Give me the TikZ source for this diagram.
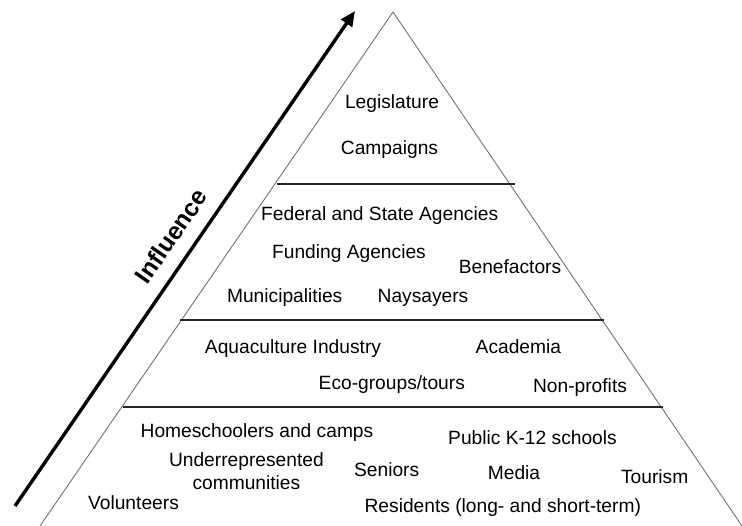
\documentclass[tikz,border=0pt]{standalone}
\usepackage{fontspec}
\setmainfont{Liberation Sans}
\usetikzlibrary{arrows.meta}
\begin{document}
\begin{tikzpicture}[x=1pt,y=-1pt,
  lbl/.style={inner sep=0pt,anchor=base,font=\fontsize{19.2}{22.3}\selectfont},
  side/.style={draw=black!55,line width=0.9pt},
  tier/.style={draw=black!85,line width=1.4pt},
  infl/.style={draw=black,line width=3.4pt,-{Triangle[length=15pt,width=13pt]}}]
\useasboundingbox (0,0) rectangle (742,526);
\fill[white] (0,0) rectangle (742,526);
% pyramid
\coordinate (apex) at (393,12);
\coordinate (bl) at (40,526);
\coordinate (br) at (742,526);
\draw[side] (bl) -- (apex) -- (br);
\coordinate (t1l) at (277,184);
\coordinate (t1r) at (515,184);
\coordinate (t2l) at (180,320);
\coordinate (t2r) at (604,320);
\coordinate (t3l) at (123,407);
\coordinate (t3r) at (663,407);
\draw[tier] (t1l) -- (t1r);
\draw[tier] (t2l) -- (t2r);
\draw[tier] (t3l) -- (t3r);
% arrow
\coordinate (as) at (15,506);
\coordinate (ae) at (355,11);
\draw[infl] (as) -- (ae);
\node[inner sep=0pt,rotate=55.5,font=\fontsize{24.5}{27}\selectfont\bfseries] (influence) at (171,236) {Influence};
% tier 1
\node[lbl] (legis) at (392,109) {Legislature};
\node[lbl] (camp) at (389.5,155) {Campaigns};
% tier 2
\node[lbl] (fed) at (379.7,220.7) {Federal and State Agencies};
\node[lbl] (fund) at (349,259) {Funding Agencies};
\node[lbl] (bene) at (510,273.3) {Benefactors};
\node[lbl] (muni) at (284.7,302.7) {Municipalities};
\node[lbl] (nay) at (423,302.7) {Naysayers};
% tier 3
\node[lbl] (aqua) at (293,353.5) {Aquaculture Industry};
\node[lbl] (acad) at (518.4,353.5) {Academia};
\node[lbl] (eco) at (391.8,389.5) {Eco-groups/tours};
\node[lbl] (nonp) at (580,392.5) {Non-profits};
% tier 4
\node[lbl] (home) at (257,437.3) {Homeschoolers and camps};
\node[lbl] (pub) at (532.5,445) {Public K-12 schools};
\node[lbl,anchor=center,align=center] (under) at (246.4,471) {Underrepresented\\communities};
\node[lbl] (sen) at (386.7,476.7) {Seniors};
\node[lbl] (media) at (514,480) {Media};
\node[lbl] (tour) at (654.7,483.3) {Tourism};
\node[lbl] (vol) at (133.5,509) {Volunteers};
\node[lbl] (res) at (502.8,512.7) {Residents (long- and short-term)};
\end{tikzpicture}
\end{document}
